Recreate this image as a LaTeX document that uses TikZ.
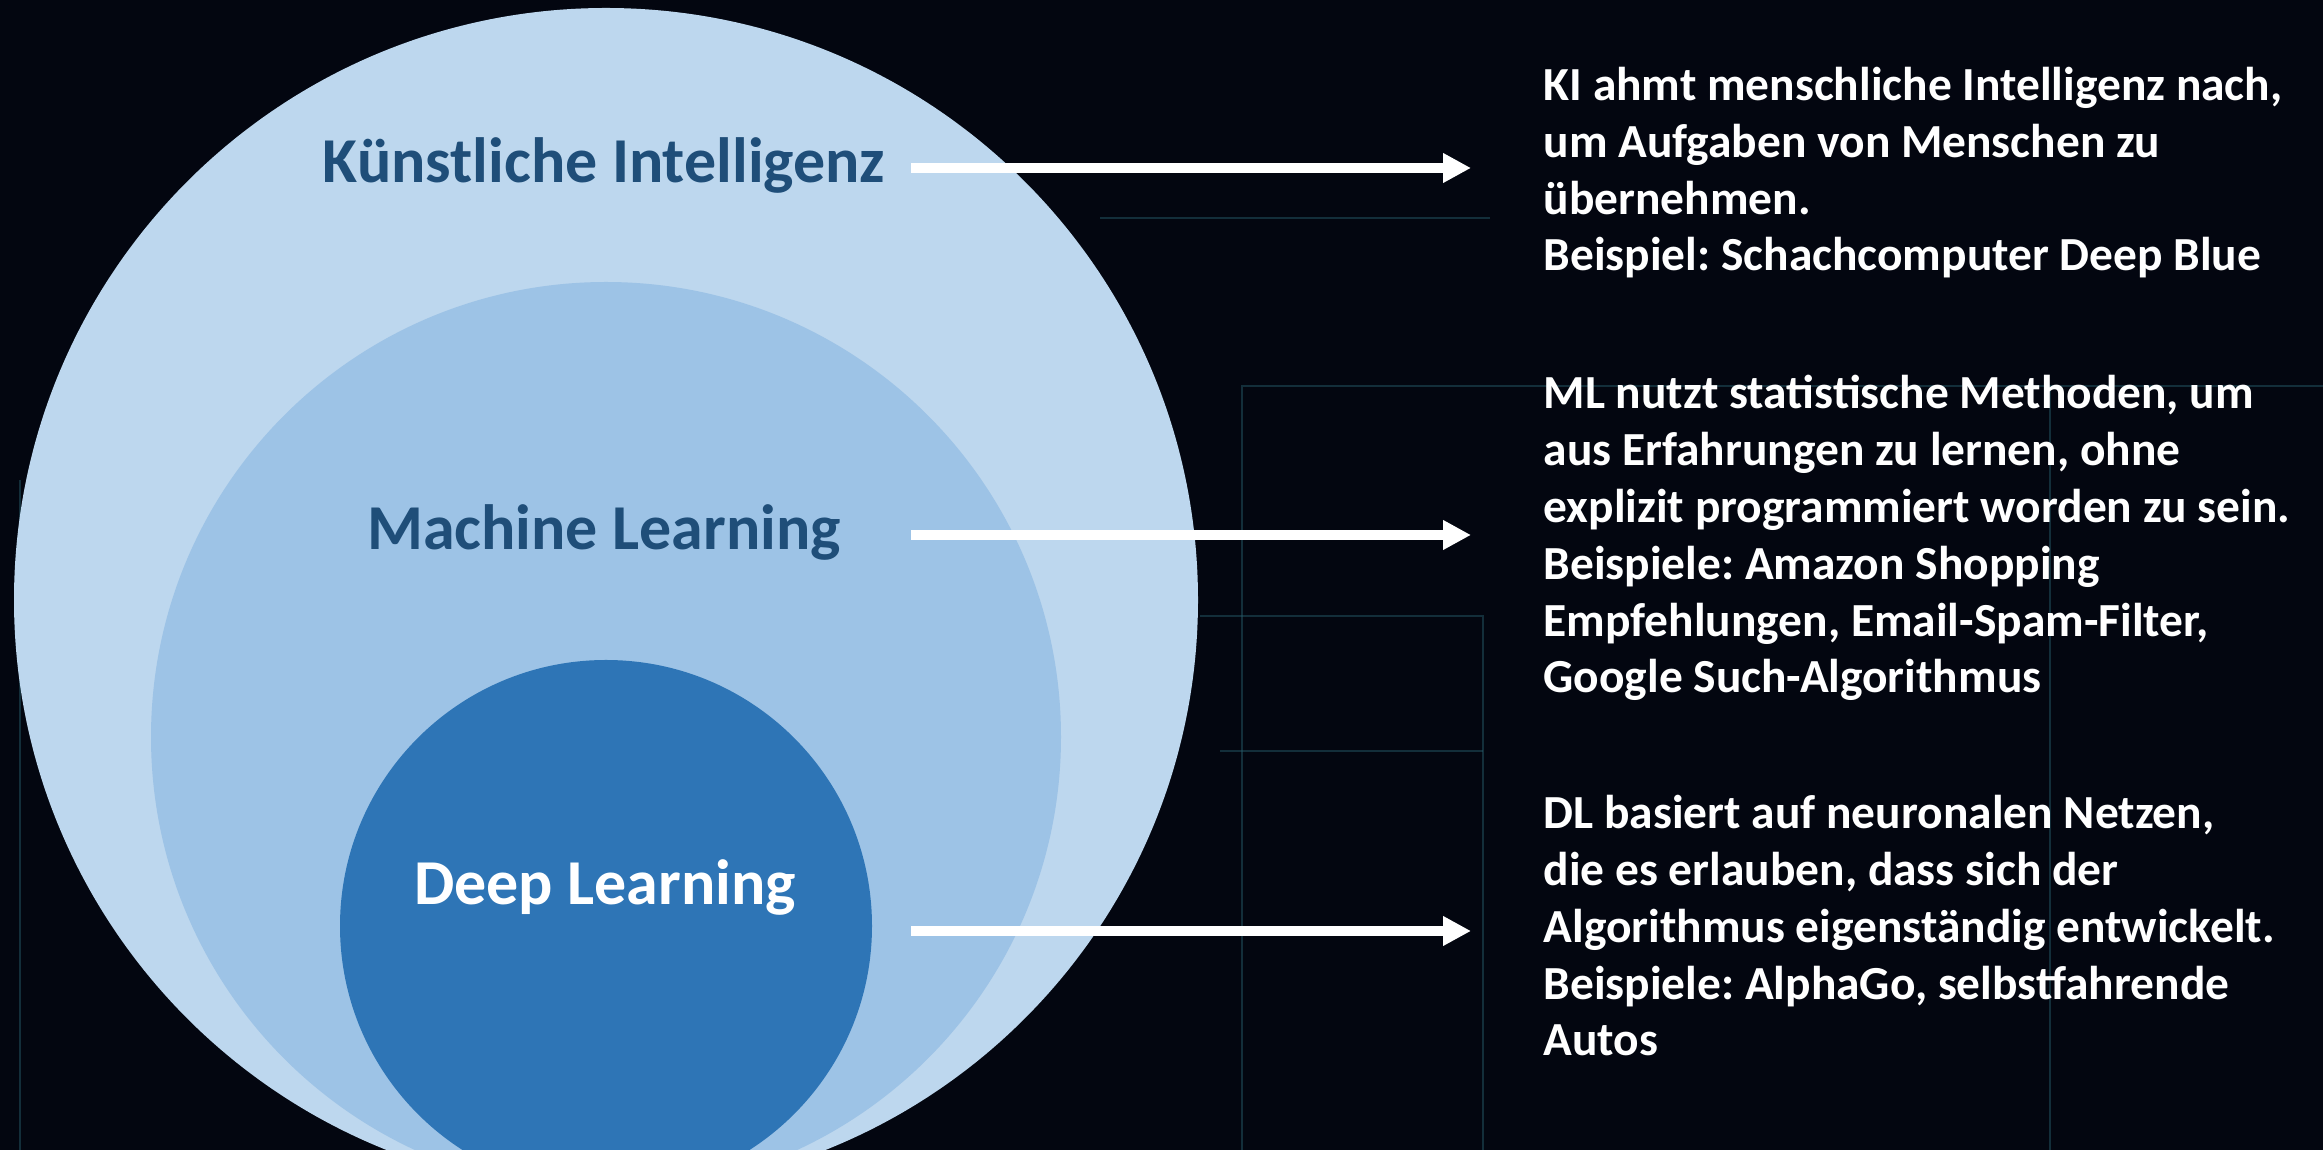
\documentclass[tikz,border=0pt]{standalone}
\usepackage{fontspec}
\setmainfont{Carlito}
\frenchspacing
\usetikzlibrary{arrows.meta}
\definecolor{kiblau}{HTML}{BDD7EE}
\definecolor{mlblau}{HTML}{9DC3E6}
\definecolor{dlblau}{HTML}{2E75B6}
\definecolor{schrift}{HTML}{1F4E79}
\definecolor{nacht}{RGB}{3,6,16}
\definecolor{platine}{RGB}{40,95,110}
\tikzset{
  titel/.style={font=\fontsize{18.2pt}{22pt}\selectfont\bfseries, text=schrift, inner sep=0pt, anchor=base},
  info/.style={font=\fontsize{13.5pt}{16.2pt}\selectfont\bfseries, text=white, align=left, inner sep=0pt, anchor=base west},
  pfeil/.style={white, line width=2.6pt, -{Triangle[length=0.28cm,width=0.28cm]}, shorten >=0.72cm},
  spur/.style={platine, line width=0.8pt, opacity=0.45},
}
\begin{document}
\begin{tikzpicture}
  \useasboundingbox (0,0) rectangle (23.23,-11.5);
  \fill[nacht] (0,0) rectangle (23.23,-11.5);
  \begin{scope}[spur]
    \draw (11.0,-2.18) -- (14.9,-2.18);
    \draw (12.42,-11.5) |- (23.23,-3.86);
    \draw (12.0,-6.16) -| (14.83,-11.5);
    \draw (12.2,-7.51) -- (14.83,-7.51);
    \draw (20.5,-3.86) -- (20.5,-11.5);
    \draw (0.2,-4.8) -- (0.2,-11.5);
  \end{scope}
  \begin{scope}
    \clip (0,0) rectangle (23.23,-11.5);
    \fill[kiblau] (6.06,-6.00) circle (5.92);
    \fill[mlblau] (6.06,-7.37) circle (4.55);
    \fill[dlblau] (6.06,-9.26) circle (2.66);
  \end{scope}
  \node[titel] (ki) at (6.04,-1.83) {Künstliche Intelligenz};
  \node[titel] (ml) at (6.04,-5.50) {Machine Learning};
  \node[titel, text=white] (dl) at (6.05,-9.05) {Deep Learning};
  \node[info] (kiinfo) at (15.43,-2.71) {KI ahmt menschliche Intelligenz nach,\\um Aufgaben von Menschen zu\\übernehmen.\\Beispiel: Schachcomputer Deep Blue};
  \node[info] (mlinfo) at (15.43,-6.93) {ML nutzt statistische Methoden, um\\aus Erfahrungen zu lernen, ohne\\explizit programmiert worden zu sein.\\Beispiele: Amazon Shopping\\Empfehlungen, Email-Spam-Filter,\\Google Such-Algorithmus};
  \node[info] (dlinfo) at (15.43,-10.56) {DL basiert auf neuronalen Netzen,\\die es erlauben, dass sich der\\Algorithmus eigenständig entwickelt.\\Beispiele: AlphaGo, selbstfahrende\\Autos};
  \coordinate (kistart) at (9.11,-1.68);
  \coordinate (mlstart) at (9.11,-5.35);
  \coordinate (dlstart) at (9.11,-9.31);
  \draw[pfeil] (kistart) -- (kiinfo.west |- kistart);
  \draw[pfeil] (mlstart) -- (mlinfo.west |- mlstart);
  \draw[pfeil] (dlstart) -- (dlinfo.west |- dlstart);
\end{tikzpicture}
\end{document}
